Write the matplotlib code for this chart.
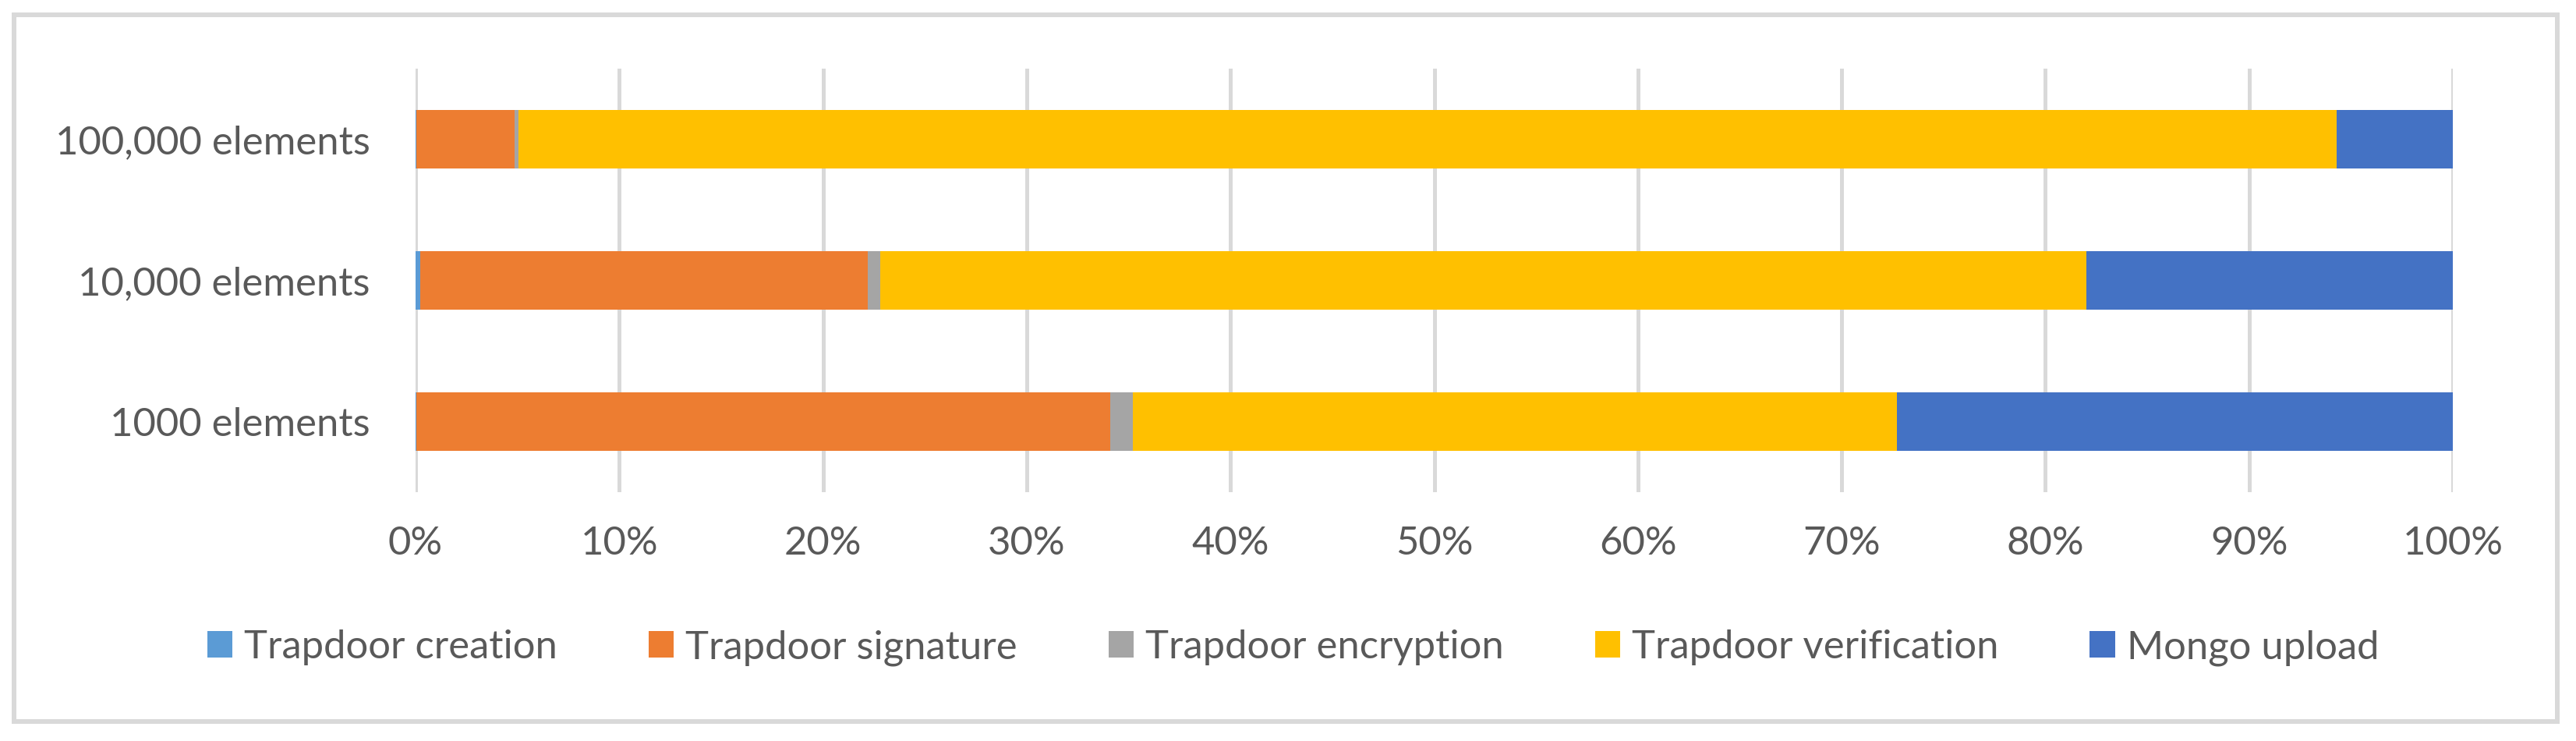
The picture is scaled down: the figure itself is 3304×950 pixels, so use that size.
import matplotlib.pyplot as plt
import numpy as np
from matplotlib.patches import Rectangle

# Chart data (share of total time, %)
categories = ["1000 elements", "10,000 elements", "100,000 elements"]
series_names = [
    "Trapdoor creation",
    "Trapdoor signature",
    "Trapdoor encryption",
    "Trapdoor verification",
    "Mongo upload",
]
trapdoor_creation = [0.05, 0.24, 0.05]
trapdoor_signature = [34.05, 21.96, 4.81]
trapdoor_encryption = [1.1, 0.6, 0.19]
trapdoor_verification = [37.5, 59.2, 89.25]
mongo_upload = [27.3, 18.0, 5.7]
x_ticks = [0, 10, 20, 30, 40, 50, 60, 70, 80, 90, 100]
x_tick_labels = [f"{t}%" for t in x_ticks]

colors = ["#5B9BD5", "#ED7D31", "#A5A5A5", "#FFC000", "#4472C4"]
text_color = "#595959"
grid_color = "#D9D9D9"


def main():
    plt.rcParams["font.family"] = ["Lato", "DejaVu Sans"]
    fs = 36.5

    fig = plt.figure(figsize=(33.04, 9.5), dpi=100)
    ax = fig.add_axes([0.1613, 0.3358, 0.9522 - 0.1613, 0.9074 - 0.3358])

    # Stacked horizontal bars
    series = [
        trapdoor_creation,
        trapdoor_signature,
        trapdoor_encryption,
        trapdoor_verification,
        mongo_upload,
    ]
    y = np.arange(len(categories))
    left = np.zeros(len(categories))
    for name, vals, color in zip(series_names, series, colors):
        ax.barh(y, vals, left=left, height=0.41, color=color, label=name, zorder=3)
        left += np.array(vals)

    ax.set_xlim(0, 100)
    ax.set_ylim(-0.5, 2.5)
    ax.set_xticks(x_ticks)
    ax.set_xticklabels(x_tick_labels)
    ax.set_yticks(y)
    ax.set_yticklabels(categories)
    ax.tick_params(axis="x", length=0, pad=31, labelsize=fs, labelcolor=text_color)
    ax.tick_params(axis="y", length=0, pad=42, labelsize=fs, labelcolor=text_color)
    ax.grid(axis="x", color=grid_color, linewidth=3.6, zorder=0)
    ax.grid(axis="y", visible=False)
    ax.set_axisbelow(True)
    for spine in ax.spines.values():
        spine.set_visible(False)

    # Legend below the plot
    fig.legend(
        loc="center",
        bbox_to_anchor=(0.502, 0.126),
        ncol=5,
        frameon=False,
        fontsize=fs,
        labelcolor=text_color,
        handlelength=0.64,
        handleheight=0.66,
        handletextpad=0.3,
        columnspacing=2.3,
    )

    # Chart area border
    fig.patches.append(
        Rectangle(
            (18 / 3304, 1 - 925 / 950),
            (3280 - 18) / 3304,
            (925 - 19) / 950,
            transform=fig.transFigure,
            fill=False,
            edgecolor=grid_color,
            linewidth=4.3,
        )
    )

    fig.savefig("out.png", dpi=100, facecolor="white")


if __name__ == "__main__":
    main()
